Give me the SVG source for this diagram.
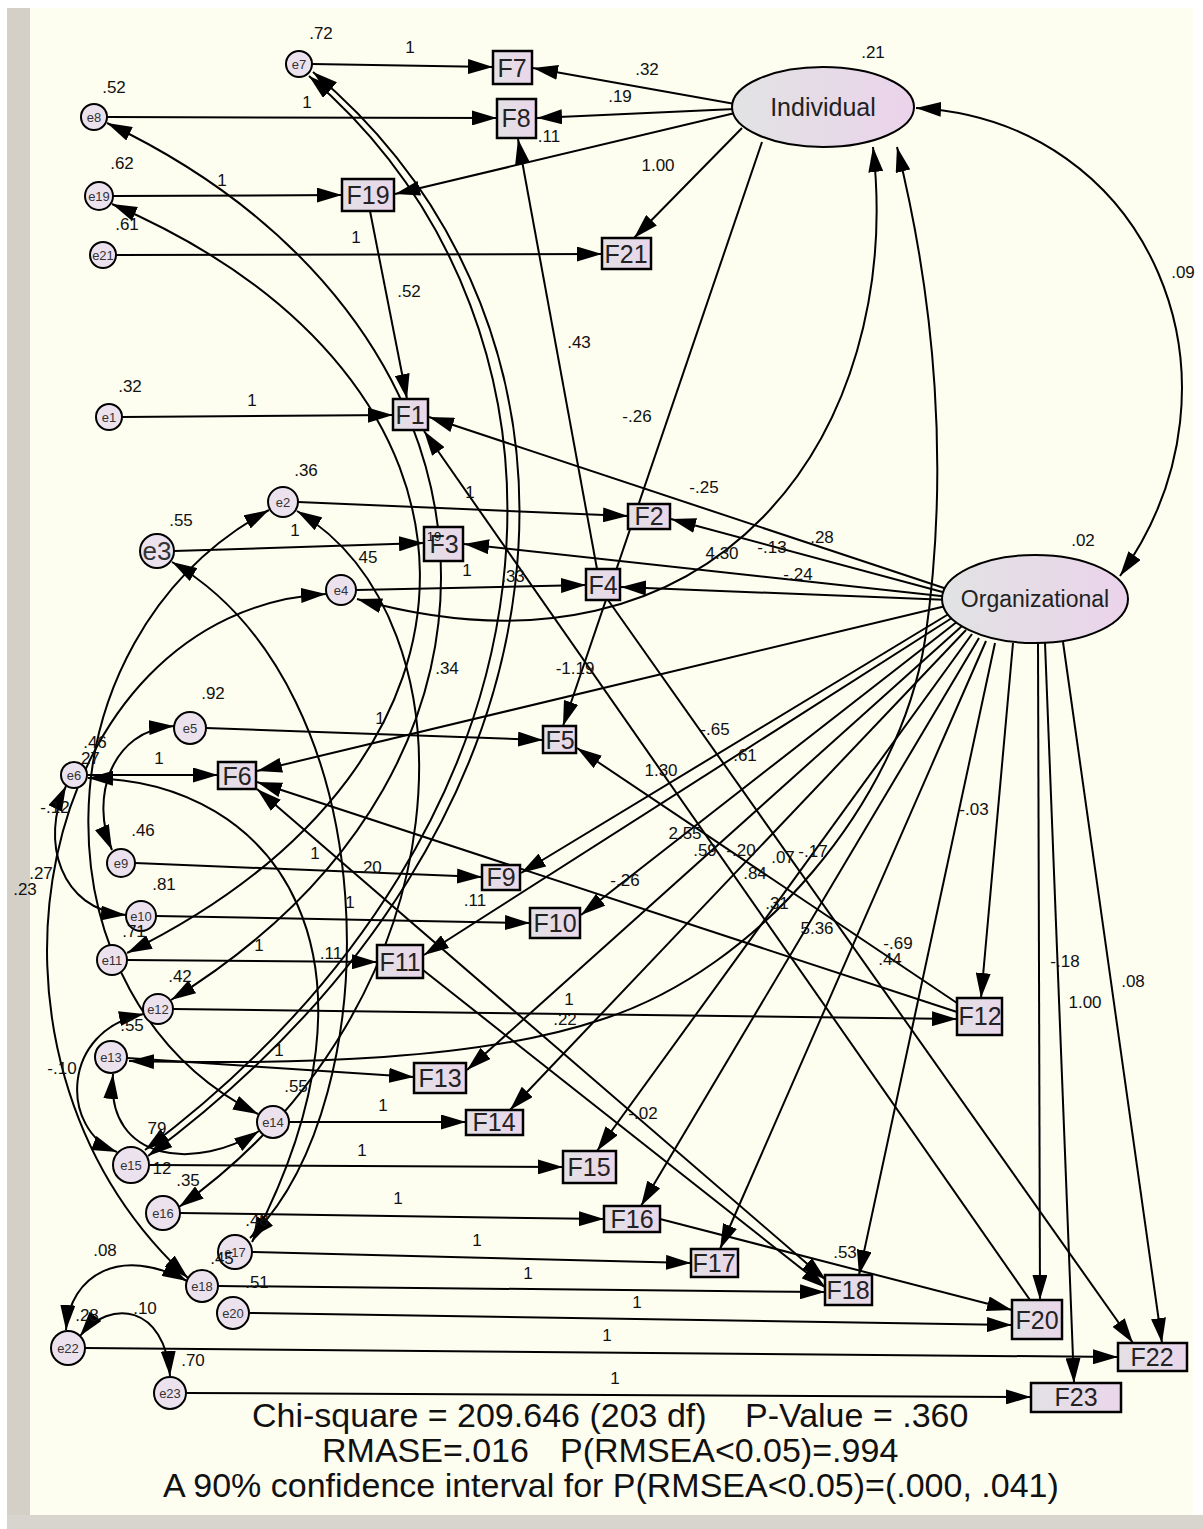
<svg xmlns="http://www.w3.org/2000/svg" width="1203" height="1529" viewBox="0 0 1203 1529">
<style>
.ln{fill:none;stroke:#000;stroke-width:2;marker-end:url(#ah)}
.bi{marker-start:url(#ah)}
.bx{fill:url(#gb);stroke:#000;stroke-width:2.5}
.ci{fill:#ebe2ee;stroke:#000;stroke-width:2}
.el{fill:url(#ge);stroke:#000;stroke-width:2}
.ft{font-family:"Liberation Sans",Arial,sans-serif;font-size:25px;fill:#222;text-anchor:middle}
.et{font-family:"Liberation Sans",Arial,sans-serif;font-size:13px;fill:#333;text-anchor:middle}
.lb{font-family:"Liberation Sans",Arial,sans-serif;font-size:17px;fill:#111;text-anchor:middle}
.bt{font-family:"Liberation Sans",Arial,sans-serif;font-size:34px;fill:#111}
</style>
<defs>
<marker id="ah" viewBox="0 0 25 15" refX="25" refY="7.5" markerWidth="25" markerHeight="15" markerUnits="userSpaceOnUse" orient="auto-start-reverse"><path d="M0,0 L25,7.5 L0,15 z" fill="#000"/></marker>
<linearGradient id="gb" x1="0" y1="0" x2="1" y2="0"><stop offset="0" stop-color="#e3e1e5"/><stop offset="1" stop-color="#ead6ea"/></linearGradient>
<linearGradient id="ge" x1="0" y1="0" x2="1" y2="0"><stop offset="0" stop-color="#e1e3e3"/><stop offset="1" stop-color="#ebd3eb"/></linearGradient>
</defs>
<rect width="1203" height="1529" fill="#fff"/>
<rect x="7" y="8" width="23" height="1521" fill="#d4d0c8"/>
<rect x="30" y="8" width="1163" height="1507" fill="#fdfdf0"/>
<rect x="7" y="1515" width="1196" height="14" fill="#d8d5ce"/>

<g id="connectors">
<path class="ln" d="M312,64 L493,67"/>
<path class="ln" d="M107,117 L497,118"/>
<path class="ln" d="M113,196 L342,195"/>
<path class="ln" d="M116,255 L602,254"/>
<path class="ln" d="M122,417 L393,415"/>
<path class="ln" d="M298,502 L628,516"/>
<path class="ln" d="M174,551 L424,543"/>
<path class="ln" d="M356,590 L586,585"/>
<path class="ln" d="M206,728 L543,740"/>
<path class="ln" d="M87,775 L218,775"/>
<path class="ln" d="M135,863 L482,877"/>
<path class="ln" d="M156,916 L530,923"/>
<path class="ln" d="M127,960 L377,962"/>
<path class="ln" d="M173,1009 L957,1019"/>
<path class="ln" d="M127,1058 L414,1077"/>
<path class="ln" d="M289,1122 L466,1122"/>
<path class="ln" d="M149,1165 L563,1167"/>
<path class="ln" d="M180,1213 L604,1219"/>
<path class="ln" d="M252,1252 L691,1263"/>
<path class="ln" d="M218,1286 L825,1292"/>
<path class="ln" d="M249,1313 L1012,1325"/>
<path class="ln" d="M85,1348 L1118,1357"/>
<path class="ln" d="M186,1393 L1031,1397"/>
<path class="ln" d="M735,104 L533,68"/>
<path class="ln" d="M735,109 L537,118"/>
<path class="ln" d="M735,113 L395,194"/>
<path class="ln" d="M742,128 L634,238"/>
<path class="ln" d="M762,142 L563,726"/>
<path class="ln" d="M950,590 L429,417"/>
<path class="ln" d="M950,594 L671,519"/>
<path class="ln" d="M950,597 L464,544"/>
<path class="ln" d="M950,600 L621,587"/>
<path class="ln" d="M950,605 L257,771"/>
<path class="ln" d="M952,612 L521,873"/>
<path class="ln" d="M955,616 L424,955"/>
<path class="ln" d="M958,621 L581,915"/>
<path class="ln" d="M962,626 L467,1070"/>
<path class="ln" d="M966,630 L510,1110"/>
<path class="ln" d="M972,634 L597,1151"/>
<path class="ln" d="M979,638 L641,1206"/>
<path class="ln" d="M986,641 L720,1249"/>
<path class="ln" d="M995,643 L859,1275"/>
<path class="ln" d="M1013,643 L981,998"/>
<path class="ln" d="M1038,643 L1040,1300"/>
<path class="ln" d="M1045,643 L1074,1383"/>
<path class="ln" d="M1063,642 L1162,1343"/>
<path class="ln" d="M370,211 L407,399"/>
<path class="ln" d="M597,569 L518,139"/>
<path class="ln" d="M608,600 L1133,1343"/>
<path class="ln" d="M1030,1300 L424,431"/>
<path class="ln" d="M957,1003 L577,748"/>
<path class="ln" d="M957,1012 L257,782"/>
<path class="ln bi" d="M257,789 L826,1280"/>
<path class="ln" d="M423,970 L826,1288"/>
<path class="ln" d="M660,1219 L1012,1310"/>
<path class="ln bi" d="M916,108 C1150,120 1260,380 1120,576"/>
<path class="ln bi" d="M873,147 C905,430 720,700 357,599"/>
<path class="ln bi" d="M897,147 C935,300 950,470 925,640 C900,800 760,970 600,1020 C480,1060 300,1065 129,1061"/>
<path class="ln bi" d="M313,72 C620,330 600,820 148,1156"/>
<path class="ln bi" d="M309,76 C605,330 585,820 145,1150"/>
<path class="ln bi" d="M107,123 C520,320 560,760 171,1000"/>
<path class="ln bi" d="M112,204 C520,380 520,760 127,953"/>
<path class="ln bi" d="M297,511 C480,620 470,1000 179,1207"/>
<path class="ln bi" d="M172,562 C390,690 390,1100 250,1238"/>
<path class="ln bi" d="M88,778 C280,780 400,960 252,1242"/>
<path class="ln bi" d="M269,510 C30,640 30,1000 258,1114"/>
<path class="ln bi" d="M66,786 C40,840 60,910 126,915"/>
<path class="ln bi" d="M326,594 C40,610 -60,1050 188,1278"/>
<path class="ln bi" d="M174,726 C110,730 90,800 112,850"/>
<path class="ln bi" d="M144,1014 C60,1030 60,1130 117,1152"/>
<path class="ln bi" d="M113,1074 C105,1165 200,1170 259,1131"/>
<path class="ln bi" d="M187,1281 C120,1245 70,1275 66,1330"/>
<path class="ln bi" d="M80,1336 C110,1298 165,1305 170,1376"/>
</g>

<g id="Individual"><ellipse class="el" cx="823" cy="107" rx="91" ry="40"/><text class="ft" x="823" y="116">Individual</text></g>
<g id="Organizational"><ellipse class="el" cx="1035" cy="599" rx="93" ry="44"/><text class="ft" x="1035" y="607" style="font-size:23px">Organizational</text></g>

<g id="F7"><rect class="bx" x="493" y="51" width="39" height="33"/><text class="ft" x="512" y="77">F7</text></g>
<g id="F8"><rect class="bx" x="497" y="99" width="39" height="39"/><text class="ft" x="516" y="127">F8</text></g>
<g id="F19"><rect class="bx" x="342" y="179" width="52" height="32"/><text class="ft" x="368" y="204">F19</text></g>
<g id="F21"><rect class="bx" x="602" y="238" width="49" height="31"/><text class="ft" x="626" y="263">F21</text></g>
<g id="F1"><rect class="bx" x="393" y="399" width="35" height="31"/><text class="ft" x="410" y="424">F1</text></g>
<g id="F3"><rect class="bx" x="424" y="527" width="39" height="34"/><text class="ft" x="444" y="553">F3</text></g>
<g id="F2"><rect class="bx" x="628" y="504" width="42" height="25"/><text class="ft" x="649" y="525">F2</text></g>
<g id="F4"><rect class="bx" x="586" y="569" width="34" height="31"/><text class="ft" x="603" y="594">F4</text></g>
<g id="F5"><rect class="bx" x="543" y="726" width="33" height="27"/><text class="ft" x="560" y="749">F5</text></g>
<g id="F6"><rect class="bx" x="218" y="762" width="38" height="27"/><text class="ft" x="237" y="785">F6</text></g>
<g id="F9"><rect class="bx" x="482" y="865" width="38" height="25"/><text class="ft" x="501" y="886">F9</text></g>
<g id="F10"><rect class="bx" x="530" y="908" width="50" height="30"/><text class="ft" x="555" y="932">F10</text></g>
<g id="F11"><rect class="bx" x="377" y="945" width="46" height="33"/><text class="ft" x="400" y="971">F11</text></g>
<g id="F12"><rect class="bx" x="957" y="998" width="45" height="37"/><text class="ft" x="980" y="1025">F12</text></g>
<g id="F13"><rect class="bx" x="414" y="1063" width="52" height="30"/><text class="ft" x="440" y="1087">F13</text></g>
<g id="F14"><rect class="bx" x="466" y="1110" width="57" height="25"/><text class="ft" x="494" y="1131">F14</text></g>
<g id="F15"><rect class="bx" x="563" y="1151" width="53" height="32"/><text class="ft" x="589" y="1176">F15</text></g>
<g id="F16"><rect class="bx" x="604" y="1206" width="56" height="26"/><text class="ft" x="632" y="1228">F16</text></g>
<g id="F17"><rect class="bx" x="691" y="1249" width="47" height="28"/><text class="ft" x="714" y="1272">F17</text></g>
<g id="F18"><rect class="bx" x="825" y="1275" width="47" height="30"/><text class="ft" x="848" y="1299">F18</text></g>
<g id="F20"><rect class="bx" x="1012" y="1300" width="50" height="39"/><text class="ft" x="1037" y="1329">F20</text></g>
<g id="F22"><rect class="bx" x="1118" y="1343" width="69" height="28"/><text class="ft" x="1152" y="1366">F22</text></g>
<g id="F23"><rect class="bx" x="1031" y="1383" width="90" height="29"/><text class="ft" x="1076" y="1406">F23</text></g>

<g id="e7"><circle class="ci" cx="299" cy="64" r="13"/><text class="et" x="299" y="69">e7</text></g>
<g id="e8"><circle class="ci" cx="94" cy="117" r="13"/><text class="et" x="94" y="122">e8</text></g>
<g id="e19"><circle class="ci" cx="99" cy="196" r="14"/><text class="et" x="99" y="201">e19</text></g>
<g id="e21"><circle class="ci" cx="103" cy="255" r="13"/><text class="et" x="103" y="260">e21</text></g>
<g id="e1"><circle class="ci" cx="109" cy="417" r="13"/><text class="et" x="109" y="422">e1</text></g>
<g id="e2"><circle class="ci" cx="283" cy="502" r="15"/><text class="et" x="283" y="507">e2</text></g>
<g id="e3"><circle class="ci" cx="157" cy="551" r="17"/><text class="et" x="157" y="560" style="font-size:26px">e3</text></g>
<g id="e4"><circle class="ci" cx="341" cy="590" r="15"/><text class="et" x="341" y="595">e4</text></g>
<g id="e5"><circle class="ci" cx="190" cy="728" r="16"/><text class="et" x="190" y="733">e5</text></g>
<g id="e6"><circle class="ci" cx="74" cy="775" r="13"/><text class="et" x="74" y="780">e6</text></g>
<g id="e9"><circle class="ci" cx="121" cy="863" r="14"/><text class="et" x="121" y="868">e9</text></g>
<g id="e10"><circle class="ci" cx="141" cy="916" r="15"/><text class="et" x="141" y="921">e10</text></g>
<g id="e11"><circle class="ci" cx="112" cy="960" r="15"/><text class="et" x="112" y="965">e11</text></g>
<g id="e12"><circle class="ci" cx="158" cy="1009" r="15"/><text class="et" x="158" y="1014">e12</text></g>
<g id="e13"><circle class="ci" cx="111" cy="1057" r="16"/><text class="et" x="111" y="1062">e13</text></g>
<g id="e14"><circle class="ci" cx="273" cy="1122" r="16"/><text class="et" x="273" y="1127">e14</text></g>
<g id="e15"><circle class="ci" cx="131" cy="1165" r="18"/><text class="et" x="131" y="1170">e15</text></g>
<g id="e16"><circle class="ci" cx="163" cy="1213" r="17"/><text class="et" x="163" y="1218">e16</text></g>
<g id="e17"><circle class="ci" cx="235" cy="1252" r="17"/><text class="et" x="235" y="1257">e17</text></g>
<g id="e18"><circle class="ci" cx="202" cy="1286" r="16"/><text class="et" x="202" y="1291">e18</text></g>
<g id="e20"><circle class="ci" cx="233" cy="1313" r="16"/><text class="et" x="233" y="1318">e20</text></g>
<g id="e22"><circle class="ci" cx="68" cy="1348" r="17"/><text class="et" x="68" y="1353">e22</text></g>
<g id="e23"><circle class="ci" cx="170" cy="1393" r="16"/><text class="et" x="170" y="1398">e23</text></g>

<g id="labels">
<text class="lb" x="321" y="39">.72</text>
<text class="lb" x="410" y="53">1</text>
<text class="lb" x="114" y="93">.52</text>
<text class="lb" x="307" y="108">1</text>
<text class="lb" x="122" y="169">.62</text>
<text class="lb" x="222" y="186">1</text>
<text class="lb" x="127" y="230">.61</text>
<text class="lb" x="356" y="243">1</text>
<text class="lb" x="647" y="75">.32</text>
<text class="lb" x="620" y="102">.19</text>
<text class="lb" x="549" y="142">.11</text>
<text class="lb" x="658" y="171">1.00</text>
<text class="lb" x="873" y="58">.21</text>
<text class="lb" x="1183" y="278">.09</text>
<text class="lb" x="409" y="297">.52</text>
<text class="lb" x="579" y="348">.43</text>
<text class="lb" x="130" y="392">.32</text>
<text class="lb" x="252" y="406">1</text>
<text class="lb" x="637" y="422">-.26</text>
<text class="lb" x="704" y="493">-.25</text>
<text class="lb" x="306" y="476">.36</text>
<text class="lb" x="470" y="498">1</text>
<text class="lb" x="181" y="526">.55</text>
<text class="lb" x="295" y="536">1</text>
<text class="lb" x="368" y="563">45</text>
<text class="lb" x="434" y="541" style="font-size:13px">19</text>
<text class="lb" x="467" y="576">1</text>
<text class="lb" x="513" y="582">.33</text>
<text class="lb" x="722" y="559">4.30</text>
<text class="lb" x="772" y="553">-.13</text>
<text class="lb" x="822" y="543">.28</text>
<text class="lb" x="798" y="580">-.24</text>
<text class="lb" x="1083" y="546">.02</text>
<text class="lb" x="447" y="674">.34</text>
<text class="lb" x="575" y="674">-1.19</text>
<text class="lb" x="213" y="699">.92</text>
<text class="lb" x="380" y="724">1</text>
<text class="lb" x="95" y="748">.46</text>
<text class="lb" x="88" y="764">.27</text>
<text class="lb" x="159" y="764">1</text>
<text class="lb" x="715" y="735">-.65</text>
<text class="lb" x="745" y="761">.61</text>
<text class="lb" x="661" y="776">1.30</text>
<text class="lb" x="55" y="813">-.12</text>
<text class="lb" x="143" y="836">.46</text>
<text class="lb" x="315" y="859">1</text>
<text class="lb" x="370" y="873">.20</text>
<text class="lb" x="685" y="839">2.55</text>
<text class="lb" x="705" y="856">.59</text>
<text class="lb" x="741" y="856">-.20</text>
<text class="lb" x="783" y="863">.07</text>
<text class="lb" x="813" y="857">-.17</text>
<text class="lb" x="755" y="879">.84</text>
<text class="lb" x="974" y="815">-.03</text>
<text class="lb" x="41" y="879">.27</text>
<text class="lb" x="25" y="895">.23</text>
<text class="lb" x="164" y="890">.81</text>
<text class="lb" x="625" y="886">-.26</text>
<text class="lb" x="475" y="906">.11</text>
<text class="lb" x="350" y="908">1</text>
<text class="lb" x="777" y="909">.31</text>
<text class="lb" x="817" y="934">5.36</text>
<text class="lb" x="898" y="949">-.69</text>
<text class="lb" x="890" y="965">.44</text>
<text class="lb" x="134" y="937">.71</text>
<text class="lb" x="259" y="951">1</text>
<text class="lb" x="331" y="959">.11</text>
<text class="lb" x="180" y="982">.42</text>
<text class="lb" x="1065" y="967">-.18</text>
<text class="lb" x="1133" y="987">.08</text>
<text class="lb" x="1085" y="1008">1.00</text>
<text class="lb" x="569" y="1005">1</text>
<text class="lb" x="565" y="1025">.22</text>
<text class="lb" x="132" y="1031">.55</text>
<text class="lb" x="279" y="1056">1</text>
<text class="lb" x="62" y="1074">-.10</text>
<text class="lb" x="296" y="1092">.55</text>
<text class="lb" x="383" y="1111">1</text>
<text class="lb" x="157" y="1134">79</text>
<text class="lb" x="643" y="1119">-.02</text>
<text class="lb" x="362" y="1156">1</text>
<text class="lb" x="162" y="1174">12</text>
<text class="lb" x="188" y="1186">.35</text>
<text class="lb" x="398" y="1204">1</text>
<text class="lb" x="257" y="1226">.48</text>
<text class="lb" x="222" y="1264">.45</text>
<text class="lb" x="477" y="1246">1</text>
<text class="lb" x="105" y="1256">.08</text>
<text class="lb" x="257" y="1288">.51</text>
<text class="lb" x="528" y="1279">1</text>
<text class="lb" x="845" y="1258">.53</text>
<text class="lb" x="87" y="1321">.28</text>
<text class="lb" x="145" y="1314">.10</text>
<text class="lb" x="637" y="1308">1</text>
<text class="lb" x="193" y="1366">.70</text>
<text class="lb" x="607" y="1341">1</text>
<text class="lb" x="615" y="1384">1</text>
</g>

<g id="fit">
<text class="bt" x="252" y="1427">Chi-square = 209.646 (203 df)</text>
<text class="bt" x="745" y="1427">P-Value = .360</text>
<text class="bt" x="322" y="1462">RMASE=.016</text>
<text class="bt" x="560" y="1462">P(RMSEA&lt;0.05)=.994</text>
<text class="bt" x="163" y="1497">A 90% confidence interval for P(RMSEA&lt;0.05)=(.000, .041)</text>
</g>
</svg>
